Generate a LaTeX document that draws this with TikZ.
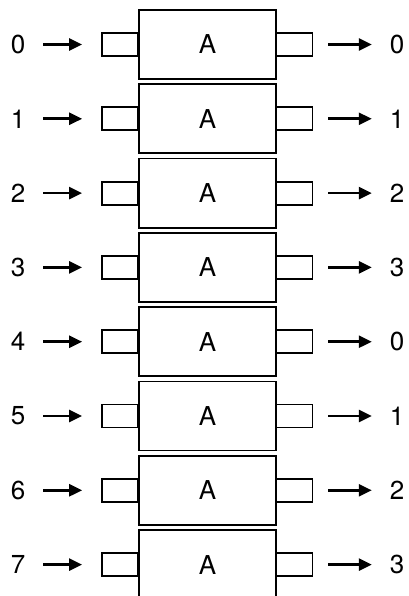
\documentclass[tikz,border=0pt]{standalone}
\usepackage{fontspec}
\setmainfont{TeX Gyre Heros}
\usetikzlibrary{arrows.meta}
\newcommand\bigfnt{\fontsize{26pt}{30pt}\selectfont}
\begin{document}
\begin{tikzpicture}[x=1pt,y=-1pt,
  bigbox/.style={draw, line width=1.8pt, minimum width=137pt, minimum height=69pt, inner sep=0pt, font=\bigfnt},
  port/.style={draw, line width=1.8pt, minimum width=36pt, minimum height=23pt, inner sep=0pt},
  num/.style={minimum width=20pt, inner sep=0pt, font=\bigfnt},
  arr/.style={line width=2.6pt, -{Triangle[length=13pt,width=12pt]}}]
\useasboundingbox (0,0) rectangle (408,596);
\fill[white] (0,0) rectangle (408,596);
\foreach \i/\o in {0/0,1/1,2/2,3/3,4/0,5/1,6/2,7/3}{
  \pgfmathsetmacro{\yy}{44.5+74.3*\i}
  \node[port] (l\i) at (120,\yy) {};
  \node[port] (r\i) at (294.5,\yy) {};
  \node[bigbox, fill=white] (b\i) at (207.5,\yy) {A};
  \node[num] (in\i) at (18,\yy) {\i};
  \node[num] (out\i) at (397,\yy) {\o};
  \draw[arr, shorten <=15pt, shorten >=19pt] (in\i) -- (l\i);
  \draw[arr, shorten <=15pt, shorten >=15pt] (r\i) -- (out\i);
}
\end{tikzpicture}
\end{document}
